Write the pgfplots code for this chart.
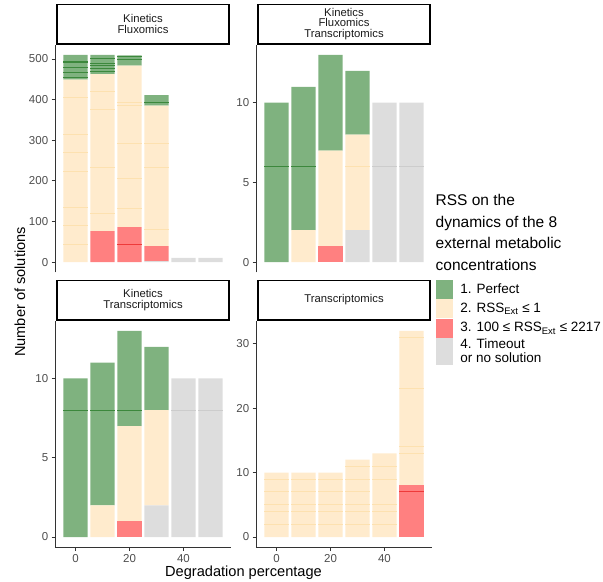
\documentclass[border=0pt]{standalone}
\usepackage{fontspec}
\setmainfont{Liberation Sans}
\usepackage{pgfplots}
\pgfplotsset{compat=1.18}
\definecolor{gfill}{RGB}{127,178,127}
\definecolor{gline}{RGB}{60,136,60}
\definecolor{yfill}{RGB}{255,235,205}
\definecolor{yline}{RGB}{253,225,176}
\definecolor{rfill}{RGB}{255,128,128}
\definecolor{rline}{RGB}{238,58,58}
\definecolor{kfill}{RGB}{221,221,221}
\definecolor{kline}{RGB}{204,204,204}
\definecolor{axcol}{RGB}{51,51,51}
\definecolor{tickcol}{RGB}{77,77,77}
\definecolor{stripcol}{RGB}{26,26,26}
\newcommand\tickfont{\fontsize{11.5bp}{13bp}\selectfont}
\newcommand\stripfont{\fontsize{11.3bp}{10.8bp}\selectfont}
\newcommand\titlefont{\fontsize{14.6bp}{17bp}\selectfont}
\newcommand\legfont{\fontsize{13.5bp}{14bp}\selectfont}
\newcommand\legtitlefont{\fontsize{15.5bp}{21.7bp}\selectfont}
\pgfplotsset{
  geom/.style={scale only axis, width=175.2bp, anchor=south west,
    xmin=-7.45, xmax=57.45, enlargelimits=false, clip=false},
  panel/.style={geom,
    ybar stacked, bar width=9,
    axis y line*=left,
    axis line style={draw=axcol, line width=1.1bp, -},
    tick align=outside, major tick length=3.7bp,
    tick style={draw=axcol, line width=0.9bp},
    ytick pos=left,
    /pgf/number format/assume math mode=true,
    ticklabel style={font=\tickfont, text=tickcol},
    every axis title/.style={at={(0.5,1)}, anchor=south, draw=black, line width=1.6bp,
      minimum width=172.4bp, minimum height=39.5bp, inner sep=0pt, align=center,
      font=\stripfont, text=stripcol},
  },
  toppanel/.style={panel, axis x line=none, xtick=\empty, height=227.8bp},
  botpanel/.style={panel, axis x line*=bottom, xtick={0,20,40}, xtick pos=bottom, height=226.7bp},
  topover/.style={geom, hide axis, height=227.8bp},
  botover/.style={geom, hide axis, height=226.7bp},
  seg/.style={draw=none, fill=#1, forget plot},
  div/.style={only marks, mark=-, mark size=12.1bp, mark options={draw=#1, line width=0.9bp}, forget plot},
}
\begin{document}
\begin{tikzpicture}
\path[use as bounding box] (0,0) rectangle (603bp,-582bp);

% ---------- Kinetics / Fluxomics ----------
\begin{axis}[toppanel, at={(55.4bp,-272.4bp)}, ymin=-25.5, ymax=535.5,
  ytick={0,100,200,300,400,500}, title={Kinetics\\Fluxomics}]
\addplot[seg=kfill] coordinates {(0,0)(10,0)(20,0)(30,2)(40,10)(50,10)};
\addplot[seg=rfill] coordinates {(0,0)(10,76)(20,86)(30,37)(40,0)(50,0)};
\addplot[seg=yfill] coordinates {(0,449)(10,387)(20,398)(30,346)(40,0)(50,0)};
\addplot[seg=gfill] coordinates {(0,61)(10,47)(20,25)(30,26)(40,0)(50,0)};
\end{axis}
\begin{axis}[topover, at={(55.4bp,-272.4bp)}, ymin=-25.5, ymax=535.5]
\addplot[div=gline] coordinates {(0,455)(0,466)(0,480)(0,492)(0,495)
  (10,470)(10,476)(10,483)(10,488)(10,502)(20,499)(20,506)(30,393)};
\addplot[div=yline] coordinates {(0,44)(0,89)(0,134)(0,224)(0,270)(0,314)(0,406)
  (10,119)(10,233)(10,376)(10,420)(20,131)(20,205)(20,292)(20,385)(20,393)
  (30,80)(30,233)(30,292)};
\addplot[div=rline] coordinates {(20,43)};
\end{axis}

% ---------- Kinetics / Fluxomics / Transcriptomics ----------
\begin{axis}[toppanel, at={(256.4bp,-272.4bp)}, ymin=-0.65, ymax=13.65,
  ytick={0,5,10}, title={Kinetics\\Fluxomics\\Transcriptomics}]
\addplot[seg=kfill] coordinates {(0,0)(10,0)(20,0)(30,2)(40,10)(50,10)};
\addplot[seg=rfill] coordinates {(0,0)(10,0)(20,1)(30,0)(40,0)(50,0)};
\addplot[seg=yfill] coordinates {(0,0)(10,2)(20,6)(30,6)(40,0)(50,0)};
\addplot[seg=gfill] coordinates {(0,10)(10,9)(20,6)(30,4)(40,0)(50,0)};
\end{axis}
\begin{axis}[topover, at={(256.4bp,-272.4bp)}, ymin=-0.65, ymax=13.65]
\addplot[div=gline] coordinates {(0,6)(10,6)};
\addplot[div=yline] coordinates {(30,6)};
\addplot[div=kline] coordinates {(40,6)(50,6)};
\end{axis}

% ---------- Kinetics / Transcriptomics ----------
\begin{axis}[botpanel, at={(55.4bp,-547.3bp)}, ymin=-0.65, ymax=13.65,
  ytick={0,5,10}, title={Kinetics\\Transcriptomics}]
\addplot[seg=kfill] coordinates {(0,0)(10,0)(20,0)(30,2)(40,10)(50,10)};
\addplot[seg=rfill] coordinates {(0,0)(10,0)(20,1)(30,0)(40,0)(50,0)};
\addplot[seg=yfill] coordinates {(0,0)(10,2)(20,6)(30,6)(40,0)(50,0)};
\addplot[seg=gfill] coordinates {(0,10)(10,9)(20,6)(30,4)(40,0)(50,0)};
\end{axis}
\begin{axis}[botover, at={(55.4bp,-547.3bp)}, ymin=-0.65, ymax=13.65]
\addplot[div=gline] coordinates {(0,8)(10,8)(20,8)};
\addplot[div=kline] coordinates {(40,8)(50,8)};
\end{axis}

% ---------- Transcriptomics ----------
\begin{axis}[botpanel, at={(256.4bp,-547.3bp)}, ymin=-1.6, ymax=33.6,
  ytick={0,10,20,30}, title={Transcriptomics},
  legend style={at={(1.0234,1.179)}, anchor=north west, draw=none, fill=none,
    inner sep=0pt, outer sep=0pt, row sep=1bp, column sep=8.3bp, font=\legfont,
    nodes={inner sep=0pt, align=left}},
  legend cell align=left]
\addplot[seg=kfill] coordinates {(0,0)(10,0)(20,0)(30,0)(40,0)(50,0)};
\addplot[seg=rfill] coordinates {(0,0)(10,0)(20,0)(30,0)(40,0)(50,8)};
\addplot[seg=yfill] coordinates {(0,10)(10,10)(20,10)(30,12)(40,13)(50,24)};
\addlegendimage{legend image code/.code={\fill[gfill] (0bp,-9bp) rectangle (16bp,9bp);}}
\addlegendentry{1. Perfect}
\addlegendimage{legend image code/.code={\fill[yfill] (0bp,-9bp) rectangle (16bp,9bp);}}
\addlegendentry{2. RSS\textsubscript{Ext} ≤ 1}
\addlegendimage{legend image code/.code={\fill[rfill] (0bp,-9bp) rectangle (16bp,9bp);}}
\addlegendentry{3. 100 ≤ RSS\textsubscript{Ext} ≤ 2217}
\addlegendimage{legend image code/.code={\fill[kfill] (0bp,-13bp) rectangle (16bp,13bp);}}
\addlegendentry{4. Timeout\\or no solution}
\end{axis}
\begin{axis}[botover, at={(256.4bp,-547.3bp)}, ymin=-1.6, ymax=33.6]
\addplot[div=yline] coordinates {(0,2)(0,4)(0,5)(0,7)(0,9)
  (10,2)(10,4)(10,5)(10,7)(10,9)(20,2)(20,4)(20,5)(20,7)(20,9)
  (30,2)(30,4)(30,5)(30,7)(30,9)(30,11)(40,2)(40,4)(40,5)(40,9)(40,11)
  (50,13)(50,14)(50,23)(50,31)};
\addplot[div=rline] coordinates {(50,7)};
\end{axis}

\node[anchor=north west, inner sep=0pt, align=left, font=\legtitlefont]
  at (435.5bp,-194bp) {RSS on the\\dynamics of the 8\\external metabolic\\concentrations};
\node[rotate=90, font=\titlefont] at (20bp,-292bp) {Number of solutions};
\node[font=\titlefont] at (243.5bp,-573bp) {Degradation percentage};
\end{tikzpicture}
\end{document}
